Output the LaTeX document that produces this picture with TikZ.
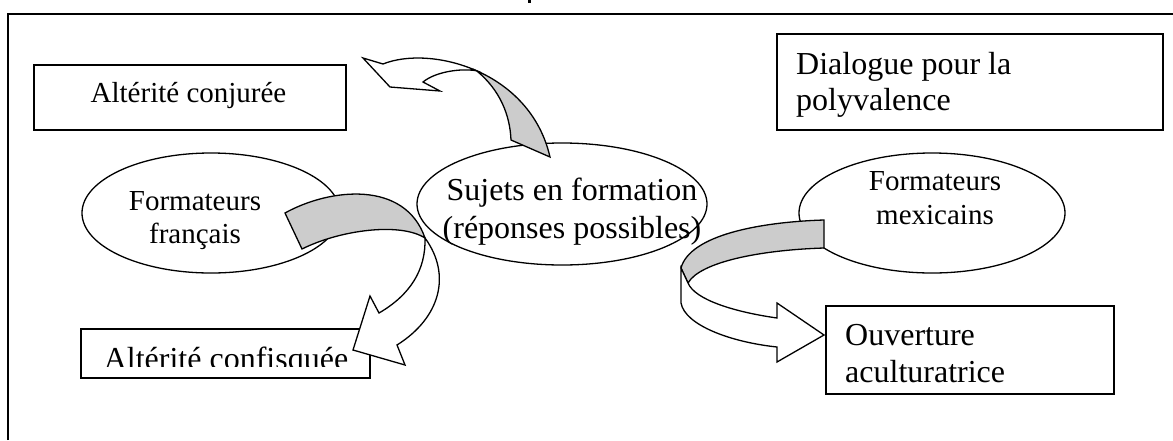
\documentclass[tikz,border=0pt]{standalone}
\usepackage{fontspec}
\setmainfont{Liberation Serif}
\usetikzlibrary{shapes.geometric}
\newcommand\fsm{\fontsize{29}{33}\selectfont}
\newcommand\fbg{\fontsize{32}{37}\selectfont}
\tikzset{
  boxnode/.style={draw=black, line width=1.6pt, fill=white, inner sep=0pt, anchor=north west},
  ovalnode/.style={draw=black, line width=1.3pt, fill=white, ellipse, inner sep=0pt},
  txt/.style={anchor=base, inner sep=0pt},
  ltxt/.style={anchor=base west, inner sep=0pt},
  ribbon/.style={draw=black, line width=1.3pt, line join=miter},
  backface/.style={ribbon, fill=black!20},
  frontface/.style={ribbon, fill=white}
}
\begin{document}
\begin{tikzpicture}[x=1pt,y=-1pt]
\path[use as bounding box] (0,0) rectangle (1173,440);
% frame (cropped)
\coordinate (fr1) at (8,440);
\coordinate (fr2) at (8,14);
\coordinate (fr3) at (1173,14);
\draw[line width=2pt] (fr1) -- (fr2) -- (fr3);
\fill (528,0) rectangle (531,3);

% boxes
\node[boxnode, minimum width=312pt, minimum height=65pt] (bconj) at (33,64) {};
\node[boxnode, minimum width=386pt, minimum height=96pt] (bdial) at (776,33) {};
\node[boxnode, minimum width=288pt, minimum height=88pt] (bouv) at (825,305) {};
\node[boxnode, minimum width=289pt, minimum height=49pt] (bconf) at (80,328) {};

% ellipses
\node[ovalnode, minimum width=258pt, minimum height=120pt] (efr) at (211,213) {};
\node[ovalnode, minimum width=290pt, minimum height=122pt] (esuj) at (562,204) {};
\node[ovalnode, minimum width=266pt, minimum height=120pt] (emex) at (932,213) {};

% texts
\node[txt, font=\fsm] (tconj) at (188.5,102) {Altérité conjurée};
\node[ltxt, font=\fbg] (tdial1) at (796,74) {Dialogue pour la};
\node[ltxt, font=\fbg] (tdial2) at (796,110) {polyvalence};
\node[txt, font=\fsm] (tfr1) at (195,210) {Formateurs};
\node[txt, font=\fsm] (tfr2) at (195,243) {français};
\node[txt, font=\fbg] (tsuj1) at (572,200) {Sujets en formation};
\node[txt, font=\fbg] (tsuj2) at (572,238) {(réponses possibles)};
\node[txt, font=\fsm] (tmex1) at (935,190) {Formateurs};
\node[txt, font=\fsm] (tmex2) at (935,224) {mexicains};
\node[ltxt, font=\fbg] (touv1) at (845,345) {Ouverture};
\node[ltxt, font=\fbg] (touv2) at (845,382) {aculturatrice};
\begin{scope}
\clip (60,320) rectangle (380,366);
\node[txt, font=\fbg] (tconf) at (226,369) {Altérité confisquée};
\end{scope}

% top curved arrow (towards Altérité conjurée)
\path[backface] (476.6,70.75) .. controls (510,85.5) and (540,113.5) .. (550,157)
  -- (511,140) .. controls (510,115) and (500,90) .. (476.6,70.75) -- cycle;
\path[frontface] (476.6,70.75) .. controls (443.25,56) and (406.5,54.5) .. (383,64)
  -- (363,58) -- (390,87) -- (440,91) -- (423,82)
  .. controls (435,72) and (460,68) .. (476.6,70.75) -- cycle;

% left curved arrow (towards Altérité confisquée)
\path[backface] (285,213) .. controls (330,188) and (405,180) .. (425,238)
  .. controls (400,222) and (340,230) .. (302,249) -- cycle;
\path[frontface] (425,238) .. controls (426,270) and (410,295) .. (379,313)
  -- (370,296) -- (353,350) -- (405,365) -- (397,345)
  .. controls (440,318) and (452,275) .. (425,238) -- cycle;

% right curved arrow (towards Ouverture aculturatrice)
\path[backface] (824,220) .. controls (760,222) and (690,235) .. (681,268)
  -- (688,283) .. controls (700,262) and (760,250) .. (824,248) -- cycle;
\path[frontface] (681,268) -- (681,303) .. controls (685,325) and (730,342) .. (777,347)
  -- (777,362) -- (824,335) -- (777,303) -- (777,318)
  .. controls (735,312) and (695,300) .. (688,283) -- cycle;
\end{tikzpicture}
\end{document}
